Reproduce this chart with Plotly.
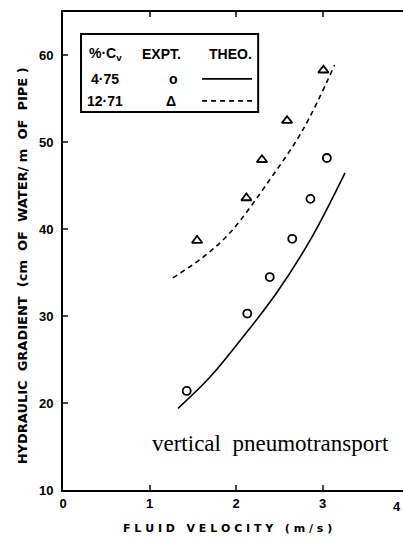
import plotly.graph_objects as go

# ---- data ----
expt_475_x = [1.43, 2.13, 2.39, 2.65, 2.86, 3.05]
expt_475_y = [21.4, 30.3, 34.5, 38.9, 43.5, 48.2]

expt_1271_x = [1.55, 2.12, 2.30, 2.59, 3.01]
expt_1271_y = [38.7, 43.6, 48.0, 52.5, 58.3]

theo_475_x = [1.33, 1.70, 2.08, 2.47, 2.86, 3.26]
theo_475_y = [19.4, 23.0, 27.6, 32.7, 38.8, 46.5]

theo_1271_x = [1.27, 1.62, 1.93, 2.39, 2.77, 3.14]
theo_1271_y = [34.4, 36.8, 39.6, 45.7, 51.4, 58.9]

x_ticks = [0, 1, 2, 3]
y_ticks = [10, 20, 30, 40, 50, 60]

legend_header = ["%·C<sub>v</sub>", "EXPT.", "THEO."]
legend_rows = ["4·75", "12·71"]

x_title = "F L U I D   V E L O C I T Y   ( m / s )"
y_title = "HYDRAULIC  GRADIENT  (cm  OF  WATER/ m  OF  PIPE )"

TICKFONT = dict(family="Liberation Sans", size=13, color="black", weight="bold")
LEGFONT = dict(family="Liberation Sans", size=14, color="black", weight="bold")

fig = go.Figure()
fig.add_trace(go.Scatter(x=theo_475_x, y=theo_475_y, mode="lines",
                         line=dict(color="black", width=1.6, shape="spline", smoothing=1.0),
                         showlegend=False))
fig.add_trace(go.Scatter(x=theo_1271_x, y=theo_1271_y, mode="lines",
                         line=dict(color="black", width=1.6, shape="spline", smoothing=1.0,
                                   dash="5px,4px"),
                         showlegend=False))
fig.add_trace(go.Scatter(x=expt_475_x, y=expt_475_y, mode="markers",
                         marker=dict(symbol="circle-open", size=8, color="black",
                                     line=dict(width=1.8)),
                         showlegend=False))
fig.add_trace(go.Scatter(x=expt_1271_x, y=expt_1271_y, mode="markers",
                         marker=dict(symbol="triangle-up-open", size=9, color="black",
                                     line=dict(width=1.8)),
                         showlegend=False))

# legend box (table style)
fig.add_shape(type="rect", xref="paper", yref="paper", x0=0.053, x1=0.574, y0=0.791, y1=0.954,
              line=dict(color="black", width=2))
col_x = [0.124, 0.291, 0.494]
row_y = [0.912, 0.860, 0.814]


def leg_text(x, y, t):
    fig.add_annotation(xref="paper", yref="paper", x=x, y=y, xanchor="center", yanchor="middle",
                       text=t, showarrow=False, font=LEGFONT)


for cx, t in zip(col_x, legend_header):
    leg_text(cx, row_y[0], t)
for ry, t in zip(row_y[1:], legend_rows):
    leg_text(col_x[0], ry, t)
leg_text(0.326, row_y[1], "o")
leg_text(0.318, row_y[2], "Δ")
fig.add_shape(type="line", xref="paper", yref="paper", x0=0.409, x1=0.556, y0=row_y[1], y1=row_y[1],
              line=dict(color="black", width=1.6))
fig.add_shape(type="line", xref="paper", yref="paper", x0=0.409, x1=0.556, y0=row_y[2], y1=row_y[2],
              line=dict(color="black", width=1.6, dash="5px,4px"))

# caption inside plot
fig.add_annotation(x=2.40, y=15.3, text="vertical  pneumotransport", showarrow=False,
                   xanchor="center", yanchor="middle",
                   font=dict(family="Liberation Serif", size=23, color="black"))
# "4" tick label at the right edge (cropped axis in the reference)
fig.add_annotation(xref="paper", yref="paper", x=1.0, xanchor="right", y=-0.015, yanchor="top",
                   text="4", showarrow=False, font=TICKFONT)

# axis titles
fig.add_annotation(xref="paper", yref="paper", x=0.485, y=-0.0795, xanchor="center",
                   yanchor="middle", text=x_title, showarrow=False,
                   font=dict(family="DejaVu Sans", size=11, color="black", weight="bold"))
fig.add_annotation(xref="paper", yref="paper", x=-0.1206, y=0.47, xanchor="center",
                   yanchor="middle", text=y_title, textangle=-90, showarrow=False,
                   font=dict(family="DejaVu Sans", size=13, color="black", weight="bold"))

fig.update_xaxes(range=[0, 3.93], tickvals=x_ticks, ticks="inside", ticklen=5, tickwidth=2,
                 showline=True, linecolor="black", linewidth=2, mirror="ticks",
                 showgrid=False, zeroline=False, tickfont=TICKFONT, automargin=False)
fig.update_yaxes(range=[10, 65], tickvals=y_ticks, ticks="inside", ticklen=5, tickwidth=2,
                 showline=True, linecolor="black", linewidth=2, mirror=False,
                 showgrid=False, zeroline=False, tickfont=TICKFONT, automargin=False,
                 ticklabelstandoff=5)

fig.update_layout(width=403, height=542, margin=dict(l=63, r=0, t=12, b=52),
                  plot_bgcolor="white", paper_bgcolor="white", showlegend=False)

fig.write_html("out.html", config={"displayModeBar": False},
               post_script="document.body.style.margin='0';document.body.style.overflow='hidden';")
